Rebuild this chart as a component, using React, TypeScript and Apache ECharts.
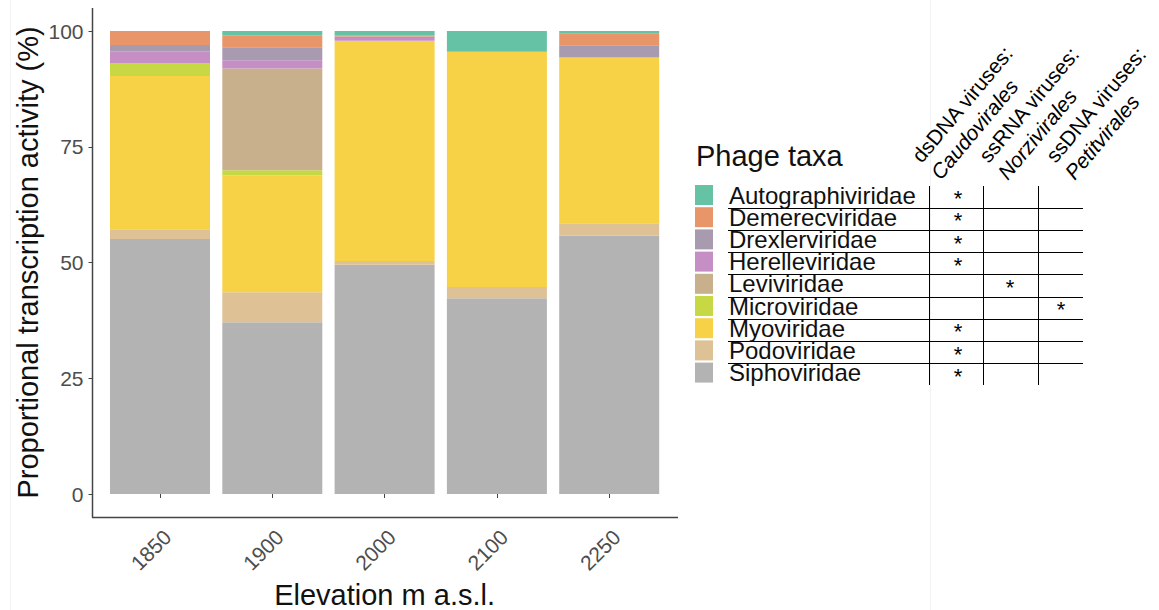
import React, { useEffect, useRef } from 'react';
import * as echarts from 'echarts';

// ---- data ----
const elevations = ['1850', '1900', '2000', '2100', '2250'];
const phageTaxa = [
  'Autographiviridae',
  'Demerecviridae',
  'Drexlerviridae',
  'Herelleviridae',
  'Leviviridae',
  'Microviridae',
  'Myoviridae',
  'Podoviridae',
  'Siphoviridae',
];
const autographiviridae = [0, 0.9, 0.9, 4.5, 0.6];
const demerecviridae = [3.0, 2.6, 0.3, 0, 2.5];
const drexlerviridae = [1.4, 2.8, 0.3, 0, 2.6];
const herelleviridae = [2.6, 1.8, 0.6, 0, 0];
const leviviridae = [0, 22.0, 0, 0, 0];
const microviridae = [2.7, 1.1, 0, 0, 0];
const myoviridae = [33.1, 25.2, 47.6, 50.8, 35.8];
const podoviridae = [2.1, 6.5, 0.8, 2.4, 2.7];
const siphoviridae = [55.1, 37.1, 49.5, 42.3, 55.8];
const yTicks = [0, 25, 50, 75, 100];

// membership table: which order each taxon belongs to (column index)
const viralGroups = ['dsDNA viruses:', 'ssRNA viruses:', 'ssDNA viruses:'];
const viralOrders = ['Caudovirales', 'Norzivirales', 'Petitvirales'];
const taxonGroupIndex = [0, 0, 0, 0, 1, 2, 0, 0, 0];

const taxonColors: Record<string, string> = {
  Autographiviridae: '#66C2A5',
  Demerecviridae: '#E8956A',
  Drexlerviridae: '#A89AAF',
  Herelleviridae: '#C58FC6',
  Leviviridae: '#C8B08C',
  Microviridae: '#C7D845',
  Myoviridae: '#F7D246',
  Podoviridae: '#DFC196',
  Siphoviridae: '#B3B3B3',
};

const valuesByTaxon: Record<string, number[]> = {
  Autographiviridae: autographiviridae,
  Demerecviridae: demerecviridae,
  Drexlerviridae: drexlerviridae,
  Herelleviridae: herelleviridae,
  Leviviridae: leviviridae,
  Microviridae: microviridae,
  Myoviridae: myoviridae,
  Podoviridae: podoviridae,
  Siphoviridae: siphoviridae,
};

const FONT = '"Liberation Sans", Arial, Helvetica, sans-serif';

export default function App() {
  const ref = useRef<HTMLDivElement>(null);

  useEffect(() => {
    const chart = echarts.init(ref.current!, null, { renderer: 'svg' });

    const stackOrder = [...phageTaxa].reverse();
    const series = stackOrder.map((name) => ({
      type: 'bar',
      name,
      stack: 'total',
      data: valuesByTaxon[name],
      barWidth: 100,
      itemStyle: { color: taxonColors[name] },
      emphasis: { disabled: true },
    }));

    // table geometry
    const rowTop = 185.5;
    const pitch = 22.2;
    const colX = [929.5, 983.5, 1038.5];
    const starX = [958, 1010, 1061];
    const graphics: any[] = [];
    const rot = (50 * Math.PI) / 180;

    // faint background lines
    graphics.push({
      type: 'line',
      shape: { x1: 930.5, y1: 0, x2: 930.5, y2: 610 },
      style: { stroke: '#f2f2f2', lineWidth: 1 },
      silent: true,
    });
    graphics.push({
      type: 'line',
      shape: { x1: 10.5, y1: 0, x2: 10.5, y2: 610 },
      style: { stroke: '#f4f4f4', lineWidth: 1 },
      silent: true,
    });

    // axis lines
    graphics.push({
      type: 'line',
      shape: { x1: 92.5, y1: 8, x2: 92.5, y2: 517.5 },
      style: { stroke: '#444', lineWidth: 1.5 },
      silent: true,
    });
    graphics.push({
      type: 'line',
      shape: { x1: 92, y1: 517.5, x2: 678, y2: 517.5 },
      style: { stroke: '#444', lineWidth: 1.5 },
      silent: true,
    });

    // legend title
    graphics.push({
      type: 'text',
      x: 696,
      y: 156,
      style: {
        text: 'Phage taxa',
        fontSize: 29,
        fontFamily: FONT,
        fill: '#111',
        align: 'left',
        verticalAlign: 'middle',
      },
    });

    // table lines
    colX.forEach((x) => {
      graphics.push({
        type: 'line',
        shape: { x1: x, y1: 186, x2: x, y2: 385 },
        style: { stroke: '#000', lineWidth: 1 },
        silent: true,
      });
    });
    for (let i = 1; i < phageTaxa.length; i++) {
      const y = Math.round(rowTop + pitch * i) + 0.5;
      graphics.push({
        type: 'line',
        shape: { x1: 728, y1: y, x2: 1083, y2: y },
        style: { stroke: '#000', lineWidth: 1 },
        silent: true,
      });
    }

    // stars
    phageTaxa.forEach((t, i) => {
      const col = taxonGroupIndex[i];
      graphics.push({
        type: 'text',
        x: starX[col],
        y: rowTop + pitch * i + pitch / 2 + 2,
        style: {
          text: '*',
          fontSize: 22,
          fontFamily: FONT,
          fill: '#000',
          align: 'center',
          verticalAlign: 'middle',
        },
      });
    });

    // rotated headers
    viralGroups.forEach((g, j) => {
      graphics.push({
        type: 'text',
        x: 924 + 67 * j,
        y: 166,
        rotation: rot,
        style: {
          text: g,
          fontSize: 21,
          fontFamily: FONT,
          fill: '#000',
          align: 'left',
          verticalAlign: 'bottom',
        },
      });
      graphics.push({
        type: 'text',
        x: 943 + 67 * j,
        y: 183,
        rotation: rot,
        style: {
          text: viralOrders[j],
          fontSize: 21,
          fontStyle: 'italic',
          fontFamily: FONT,
          fill: '#000',
          align: 'left',
          verticalAlign: 'bottom',
        },
      });
    });

    const option: any = {
      animation: false,
      backgroundColor: '#ffffff',
      textStyle: { fontFamily: FONT },
      grid: {
        left: 103.85,
        width: 561.5,
        top: 31,
        height: 463,
        containLabel: false,
        outerBoundsMode: 'none',
      },
      legend: {
        data: phageTaxa,
        orient: 'vertical',
        left: 695,
        top: 183,
        itemWidth: 18,
        itemHeight: 20,
        itemGap: -1.8,
        icon: 'rect',
        selectedMode: false,
        padding: 0,
        textStyle: {
          fontSize: 24,
          color: '#111',
          padding: [0, 0, 0, 11],
          fontFamily: FONT,
        },
      },
      xAxis: {
        type: 'category',
        data: elevations,
        offset: 23,
        axisLine: { show: false },
        axisTick: { show: true, alignWithLabel: true, length: 4, lineStyle: { color: '#444' } },
        axisLabel: {
          rotate: 45,
          fontSize: 21,
          color: '#4d4d4d',
          margin: 9,
          interval: 0,
          align: 'right',
          verticalAlign: 'top',
          fontFamily: FONT,
        },
        name: 'Elevation m a.s.l.',
        nameLocation: 'middle',
        nameGap: 55,
        nameTextStyle: { fontSize: 29, color: '#111', fontFamily: FONT },
      },
      yAxis: {
        type: 'value',
        min: yTicks[0],
        max: yTicks[yTicks.length - 1],
        interval: yTicks[1] - yTicks[0],
        offset: 11.35,
        axisLine: { show: false },
        axisTick: { show: true, length: 4, lineStyle: { color: '#444' } },
        splitLine: { show: false },
        axisLabel: { fontSize: 21, color: '#4d4d4d', margin: 9, fontFamily: FONT },
        name: 'Proportional transcription activity (%)',
        nameLocation: 'middle',
        nameGap: 50,
        nameTextStyle: { fontSize: 29, color: '#111', fontFamily: FONT },
      },
      series,
      graphic: graphics,
    };

    chart.setOption(option);
    return () => chart.dispose();
  }, []);

  return (
    <div
      ref={ref}
      style={{ position: 'fixed', left: 0, top: 0, width: 1159, height: 610, background: '#fff' }}
    />
  );
}
